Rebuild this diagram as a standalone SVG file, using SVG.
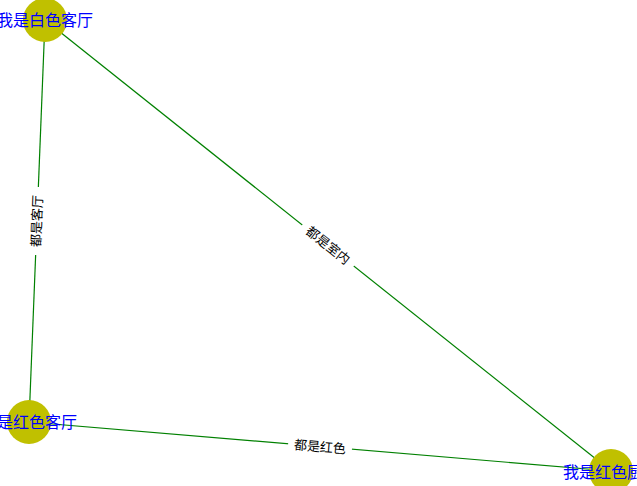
<svg xmlns="http://www.w3.org/2000/svg" width="637" height="486" viewBox="0 0 637 486">
<style>
.edge{stroke:#008000;stroke-width:1.2;fill:none}
.elbg{fill:#ffffff}
.el{font-family:"Liberation Sans","Noto Sans CJK SC",sans-serif;font-size:13px;fill:#000000;text-anchor:middle;dominant-baseline:central}
.node circle{fill:#c0c000}
.node text{font-family:"Liberation Sans","Noto Sans CJK SC",sans-serif;font-size:16px;fill:#0000ff;text-anchor:middle;dominant-baseline:central}
</style>
<rect width="637" height="486" fill="#ffffff"/>
<g id="edges">
<line class="edge" x1="45" y1="20" x2="29" y2="422"/>
<line class="edge" x1="45" y1="20" x2="611" y2="471"/>
<line class="edge" x1="29" y1="422" x2="611" y2="471"/>
<g transform="translate(37,221) rotate(-87.7)">
<rect class="elbg" x="-34" y="-8" width="68" height="16"/>
<text class="el" x="0" y="0">都是客厅</text>
</g>
<g transform="translate(328,245.5) rotate(38.55)">
<rect class="elbg" x="-33" y="-8" width="66" height="16"/>
<text class="el" x="0" y="0">都是室内</text>
</g>
<g transform="translate(320,447) rotate(4.8)">
<rect class="elbg" x="-32" y="-8" width="64" height="16"/>
<text class="el" x="0" y="0">都是红色</text>
</g>
</g>
<g id="n1" class="node">
<circle cx="45" cy="20" r="22"/>
<text x="45" y="20">我是白色客厅</text>
</g>
<g id="n2" class="node">
<circle cx="29" cy="422" r="22"/>
<text x="29" y="422">我是红色客厅</text>
</g>
<g id="n3" class="node">
<circle cx="611" cy="471" r="22"/>
<text x="611" y="472">我是红色厨房</text>
</g>
</svg>
